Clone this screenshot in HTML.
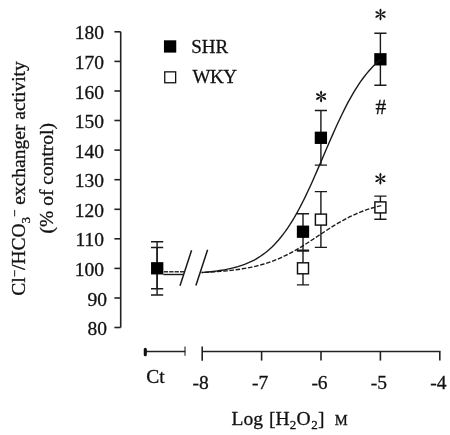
<!DOCTYPE html>
<html><head><meta charset="utf-8"><title>chart</title>
<style>
html,body{margin:0;padding:0;background:#fff;}
svg{display:block;}
svg{will-change:transform;}
text{font-family:"Liberation Serif",serif;font-size:19.5px;fill:#111;stroke:#111;stroke-width:0.3;}
.ln{stroke:#1a1a1a;stroke-width:1.4;fill:none;}
.ax{stroke:#222;stroke-width:1.6;fill:none;}
</style></head><body>
<svg width="450" height="435" viewBox="0 0 450 435">
<rect width="450" height="435" fill="#fff"/>
<path class="ax" d="M120.7,31.8 V327.5"/>
<path class="ax" d="M114.4,327.5 H120.7"/>
<text x="106.9" y="335.1" text-anchor="end">80</text>
<path class="ax" d="M114.4,298.0 H120.7"/>
<text x="106.9" y="305.6" text-anchor="end">90</text>
<path class="ax" d="M114.4,268.4 H120.7"/>
<text x="104.1" y="276.0" text-anchor="end">100</text>
<path class="ax" d="M114.4,238.8 H120.7"/>
<text x="104.1" y="246.4" text-anchor="end">110</text>
<path class="ax" d="M114.4,209.3 H120.7"/>
<text x="104.1" y="216.9" text-anchor="end">120</text>
<path class="ax" d="M114.4,179.7 H120.7"/>
<text x="104.1" y="187.3" text-anchor="end">130</text>
<path class="ax" d="M114.4,150.1 H120.7"/>
<text x="104.1" y="157.7" text-anchor="end">140</text>
<path class="ax" d="M114.4,120.5 H120.7"/>
<text x="104.1" y="128.1" text-anchor="end">150</text>
<path class="ax" d="M114.4,91.0 H120.7"/>
<text x="104.1" y="98.6" text-anchor="end">160</text>
<path class="ax" d="M114.4,61.4 H120.7"/>
<text x="104.1" y="69.0" text-anchor="end">170</text>
<path class="ax" d="M114.4,31.8 H120.7"/>
<text x="104.1" y="39.4" text-anchor="end">180</text>
<path class="ax" d="M145.5,351.5 H185.3"/>
<path d="M145.3,349.4 V354.8" stroke="#111" stroke-width="3.1" stroke-linecap="round"/>
<path class="ax" d="M185,346.6 V355.8" style="stroke-width:1.1"/>
<path class="ax" d="M202.2,351.5 H440.5"/>
<path class="ax" d="M202.2,346.6 V360.8"/>
<path class="ax" d="M261.6,351.5 V360.6"/>
<path class="ax" d="M321.0,351.5 V360.6"/>
<path class="ax" d="M380.4,351.5 V360.6"/>
<path class="ax" d="M439.8,351.5 V360.6"/>
<text x="200.7" y="388.7" text-anchor="middle">-8</text>
<text x="260.1" y="388.7" text-anchor="middle">-7</text>
<text x="319.5" y="388.7" text-anchor="middle">-6</text>
<text x="378.9" y="388.7" text-anchor="middle">-5</text>
<text x="438.3" y="388.7" text-anchor="middle">-4</text>
<text x="146.3" y="383.3">Ct</text>
<text x="231.6" y="425.1">Log <tspan dx="1.2">[H</tspan><tspan font-size="13" dy="3.5">2</tspan><tspan dy="-3.5" dx="0.4">O</tspan><tspan font-size="13" dy="3.5" dx="0.5">2</tspan><tspan dy="-3.5" dx="0.3">] </tspan><tspan font-size="14.5" dx="5.4">M</tspan></text>
<text transform="translate(25.1,178.5) rotate(-90)" text-anchor="middle">Cl<tspan font-size="13" dy="-6">−</tspan><tspan dy="6">/HCO</tspan><tspan font-size="13" dy="4.5">3</tspan><tspan font-size="13" dy="-10.5">−</tspan><tspan dy="6"> exchanger activity</tspan></text>
<text transform="translate(53.1,178.2) rotate(-90)" text-anchor="middle">(% of control)</text>
<rect x="163.95" y="40.3" width="12.3" height="12.3" fill="#000"/>
<rect x="164.75" y="71.85" width="10.9" height="10.9" fill="#fff" stroke="#111" stroke-width="1.3"/>
<text x="191.3" y="52.9" style="font-size:19px">SHR</text>
<text x="192.6" y="83.3" style="font-size:19px;letter-spacing:-0.5px">WKY</text>
<path class="ln" d="M157.1,241.7 V295.0 M151.0,241.7 H163.2 M151.0,295.0 H163.2"/>
<path class="ln" d="M157.1,247.5 V288.8 M151.0,247.5 H163.2 M151.0,288.8 H163.2"/>
<path class="ln" d="M303.0,213.8 V250.2 M296.9,213.8 H309.1 M296.9,250.2 H309.1"/>
<path class="ln" d="M303.0,251.0 V284.9 M296.9,251.0 H309.1 M296.9,284.9 H309.1"/>
<path class="ln" d="M320.9,110.5 V165.1 M314.8,110.5 H327.0 M314.8,165.1 H327.0"/>
<path class="ln" d="M320.9,191.6 V247.4 M314.8,191.6 H327.0 M314.8,247.4 H327.0"/>
<path class="ln" d="M380.4,33.2 V85.3 M374.3,33.2 H386.5 M374.3,85.3 H386.5"/>
<path class="ln" d="M380.4,196.1 V219.3 M374.3,196.1 H386.5 M374.3,219.3 H386.5"/>
<rect x="297.50" y="262.80" width="11" height="11" fill="#fff" stroke="#111" stroke-width="1.45"/>
<rect x="296.85" y="225.55" width="12.3" height="12.3" fill="#000"/>
<rect x="315.40" y="214.10" width="11" height="11" fill="#fff" stroke="#111" stroke-width="1.45"/>
<rect x="314.75" y="131.65" width="12.3" height="12.3" fill="#000"/>
<rect x="374.90" y="201.90" width="11" height="11" fill="#fff" stroke="#111" stroke-width="1.45"/>
<rect x="374.25" y="53.15" width="12.3" height="12.3" fill="#000"/>
<rect x="151.05" y="262.15" width="12.3" height="12.3" fill="#000"/>
<path class="ln" d="M163.3,274.5 H183.7"/>
<path class="ln" d="M163.8,271.8 H184.6" stroke-dasharray="4.3,1.1" style="stroke-width:1.6;stroke:#333"/>
<path class="ln" d="M180,285.7 L191.6,250.2 M195.9,285.6 L207.6,249.7" style="stroke-width:1.5"/>
<path class="ln" d="M201.61,272.54 L203.87,272.36 L206.13,272.16 L208.40,271.95 L210.66,271.72 L212.92,271.47 L215.19,271.19 L217.45,270.89 L219.71,270.56 L221.97,270.21 L224.24,269.82 L226.50,269.39 L228.76,268.93 L231.03,268.43 L233.29,267.88 L235.55,267.29 L237.82,266.64 L240.08,265.93 L242.34,265.17 L244.61,264.34 L246.87,263.44 L249.13,262.46 L251.40,261.41 L253.66,260.26 L255.92,259.02 L258.19,257.68 L260.45,256.24 L262.71,254.68 L264.98,253.00 L267.24,251.19 L269.50,249.25 L271.77,247.17 L274.03,244.94 L276.29,242.56 L278.56,240.01 L280.82,237.30 L283.08,234.42 L285.34,231.36 L287.61,228.12 L289.87,224.70 L292.13,221.10 L294.40,217.32 L296.66,213.36 L298.92,209.22 L301.19,204.92 L303.45,200.45 L305.71,195.83 L307.98,191.07 L310.24,186.18 L312.50,181.17 L314.77,176.07 L317.03,170.89 L319.29,165.65 L321.56,160.38 L323.82,155.08 L326.08,149.78 L328.35,144.51 L330.61,139.28 L332.87,134.12 L335.14,129.03 L337.40,124.05 L339.66,119.19 L341.93,114.45 L344.19,109.86 L346.45,105.42 L348.71,101.15 L350.98,97.05 L353.24,93.13 L355.50,89.38 L357.77,85.82 L360.03,82.44 L362.29,79.24 L364.56,76.21 L366.82,73.37 L369.08,70.69 L371.35,68.18 L373.61,65.83 L375.87,63.63 L378.14,61.57 L380.40,59.66"/>
<path class="ln" d="M381.29,205.58 L379.02,206.12 L376.74,206.70 L374.47,207.32 L372.19,207.97 L369.92,208.67 L367.64,209.41 L365.37,210.19 L363.10,211.01 L360.82,211.89 L358.55,212.80 L356.27,213.77 L354.00,214.78 L351.72,215.84 L349.45,216.94 L347.17,218.09 L344.90,219.29 L342.62,220.53 L340.35,221.81 L338.08,223.13 L335.80,224.49 L333.53,225.88 L331.25,227.31 L328.98,228.76 L326.70,230.23 L324.43,231.72 L322.15,233.22 L319.88,234.74 L317.61,236.25 L315.33,237.77 L313.06,239.28 L310.78,240.78 L308.51,242.27 L306.23,243.73 L303.96,245.18 L301.68,246.59 L299.41,247.97 L297.13,249.32 L294.86,250.63 L292.59,251.90 L290.31,253.12 L288.04,254.31 L285.76,255.44 L283.49,256.54 L281.21,257.58 L278.94,258.58 L276.66,259.53 L274.39,260.43 L272.12,261.29 L269.84,262.10 L267.57,262.87 L265.29,263.59 L263.02,264.28 L260.74,264.92 L258.47,265.52 L256.19,266.09 L253.92,266.63 L251.64,267.12 L249.37,267.59 L247.10,268.03 L244.82,268.43 L242.55,268.81 L240.27,269.17 L238.00,269.50 L235.72,269.80 L233.45,270.09 L231.17,270.36 L228.90,270.60 L226.63,270.83 L224.35,271.04 L222.08,271.24 L219.80,271.42 L217.53,271.59 L215.25,271.75 L212.98,271.90 L210.70,272.03 L208.43,272.16 L206.15,272.27 L203.88,272.38 L201.61,272.48" stroke-dasharray="4.5,1.75"/>
<g transform="translate(380.5,14.4)" fill="#111"><path d="M-0.3,0 L-1.05,-4.0 Q-1.15,-5.1 0,-6.0 Q1.15,-5.1 1.05,-4.0 L0.3,0 Z" transform="rotate(0)"/><path d="M-0.3,0 L-1.05,-4.0 Q-1.15,-5.1 0,-6.0 Q1.15,-5.1 1.05,-4.0 L0.3,0 Z" transform="rotate(60)"/><path d="M-0.3,0 L-1.05,-4.0 Q-1.15,-5.1 0,-6.0 Q1.15,-5.1 1.05,-4.0 L0.3,0 Z" transform="rotate(120)"/><path d="M-0.3,0 L-1.05,-4.0 Q-1.15,-5.1 0,-6.0 Q1.15,-5.1 1.05,-4.0 L0.3,0 Z" transform="rotate(180)"/><path d="M-0.3,0 L-1.05,-4.0 Q-1.15,-5.1 0,-6.0 Q1.15,-5.1 1.05,-4.0 L0.3,0 Z" transform="rotate(240)"/><path d="M-0.3,0 L-1.05,-4.0 Q-1.15,-5.1 0,-6.0 Q1.15,-5.1 1.05,-4.0 L0.3,0 Z" transform="rotate(300)"/></g>
<g transform="translate(321.1,96.5)" fill="#111"><path d="M-0.3,0 L-1.05,-4.0 Q-1.15,-5.1 0,-6.0 Q1.15,-5.1 1.05,-4.0 L0.3,0 Z" transform="rotate(0)"/><path d="M-0.3,0 L-1.05,-4.0 Q-1.15,-5.1 0,-6.0 Q1.15,-5.1 1.05,-4.0 L0.3,0 Z" transform="rotate(60)"/><path d="M-0.3,0 L-1.05,-4.0 Q-1.15,-5.1 0,-6.0 Q1.15,-5.1 1.05,-4.0 L0.3,0 Z" transform="rotate(120)"/><path d="M-0.3,0 L-1.05,-4.0 Q-1.15,-5.1 0,-6.0 Q1.15,-5.1 1.05,-4.0 L0.3,0 Z" transform="rotate(180)"/><path d="M-0.3,0 L-1.05,-4.0 Q-1.15,-5.1 0,-6.0 Q1.15,-5.1 1.05,-4.0 L0.3,0 Z" transform="rotate(240)"/><path d="M-0.3,0 L-1.05,-4.0 Q-1.15,-5.1 0,-6.0 Q1.15,-5.1 1.05,-4.0 L0.3,0 Z" transform="rotate(300)"/></g>
<g transform="translate(380.4,178.8)" fill="#111"><path d="M-0.3,0 L-1.05,-4.0 Q-1.15,-5.1 0,-6.0 Q1.15,-5.1 1.05,-4.0 L0.3,0 Z" transform="rotate(0)"/><path d="M-0.3,0 L-1.05,-4.0 Q-1.15,-5.1 0,-6.0 Q1.15,-5.1 1.05,-4.0 L0.3,0 Z" transform="rotate(60)"/><path d="M-0.3,0 L-1.05,-4.0 Q-1.15,-5.1 0,-6.0 Q1.15,-5.1 1.05,-4.0 L0.3,0 Z" transform="rotate(120)"/><path d="M-0.3,0 L-1.05,-4.0 Q-1.15,-5.1 0,-6.0 Q1.15,-5.1 1.05,-4.0 L0.3,0 Z" transform="rotate(180)"/><path d="M-0.3,0 L-1.05,-4.0 Q-1.15,-5.1 0,-6.0 Q1.15,-5.1 1.05,-4.0 L0.3,0 Z" transform="rotate(240)"/><path d="M-0.3,0 L-1.05,-4.0 Q-1.15,-5.1 0,-6.0 Q1.15,-5.1 1.05,-4.0 L0.3,0 Z" transform="rotate(300)"/></g>
<text x="380.8" y="113.8" text-anchor="middle" style="font-size:21.5px">#</text>
</svg></body></html>
